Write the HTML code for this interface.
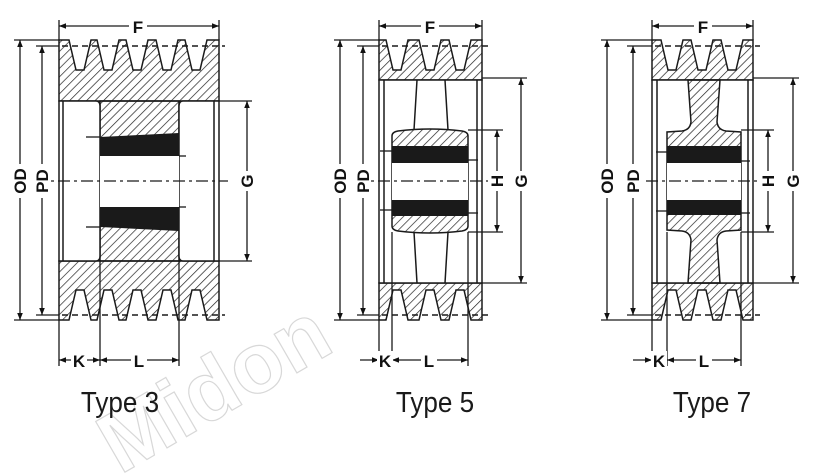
<!DOCTYPE html>
<html><head><meta charset="utf-8"><style>
html,body{margin:0;padding:0;background:#fff;width:823px;height:475px;overflow:hidden}
svg{display:block}
.o{fill:none;stroke:#1a1a1a;stroke-width:1.5}
.h{fill:url(#hat);stroke:#1a1a1a;stroke-width:1.5}
.w{fill:#fff;stroke:#1a1a1a;stroke-width:1.5}
.d{stroke:#1a1a1a;stroke-width:1.3;fill:none}
.dash{stroke:#1a1a1a;stroke-width:1.4;stroke-dasharray:6 4;fill:none}
.cl{stroke:#1a1a1a;stroke-width:1.2;stroke-dasharray:12 4 3 4;fill:none}
.lab{font-family:"Liberation Sans",sans-serif;font-weight:bold;font-size:17px;fill:#111}
.ty{font-family:"Liberation Sans",sans-serif;font-size:29px;fill:#1a1a1a}
</style></head><body>
<svg width="823" height="475" viewBox="0 0 823 475" xmlns="http://www.w3.org/2000/svg">
<defs>
<pattern id="hat" width="6" height="6" patternUnits="userSpaceOnUse" patternTransform="rotate(45)">
<line x1="0" y1="0" x2="0" y2="6" stroke="#222" stroke-width="1.4"/>
</pattern>
<marker id="a" viewBox="0 0 10 10" refX="10" refY="5" markerWidth="10" markerHeight="7" orient="auto-start-reverse" markerUnits="userSpaceOnUse">
<path d="M0,1 L10,5 L0,9 Z" fill="#111"/>
</marker>
</defs>

<!-- watermark -->
<g fill="none" stroke="#d8d8d8" stroke-width="1.2" font-family="Liberation Sans,sans-serif" font-weight="bold">
<text x="120" y="475" font-size="85" transform="rotate(-30 120 475)">Midon</text>
</g>

<!-- ================= TYPE 3 ================= -->
<g>
<path class="h" d="M59,101 L59,40 L69,40 L76,70 L84,70 L91,40 L97,40 L104,70 L112,70 L119,40 L126,40 L133,70 L141,70 L148,40 L156,40 L163,70 L171,70 L178,40 L185,40 L192,70 L200,70 L207,40 L219,40 L219,101 Z"/>
<path class="h" d="M59,261 L59,320 L69,320 L76,290 L84,290 L91,320 L97,320 L104,290 L112,290 L119,320 L126,320 L133,290 L141,290 L148,320 L156,320 L163,290 L171,290 L178,320 L185,320 L192,290 L200,290 L207,320 L219,320 L219,261 Z"/>
<rect class="h" x="100" y="101" width="79" height="160"/>
<path class="w" d="M59,101 L96,101 Q100,101 100,106 L100,256 Q100,261 96,261 L59,261 Z"/>
<line class="o" x1="63" y1="101" x2="63" y2="261"/>
<path class="w" d="M219,101 L183,101 Q179,101 179,106 L179,256 Q179,261 183,261 L219,261 Z"/>
<line class="o" x1="214" y1="101" x2="214" y2="261"/>
<path d="M100,137 L179,133 L179,156 L100,156 Z" fill="#1a1a1a"/>
<rect x="100" y="156" width="79" height="51" fill="#fff"/>
<path d="M100,207 L179,207 L179,231 L100,227 Z" fill="#1a1a1a"/>
<line class="d" x1="86" y1="137" x2="100" y2="137"/><line class="d" x1="179" y1="156" x2="186" y2="156"/>
<line class="d" x1="86" y1="227" x2="100" y2="227"/><line class="d" x1="179" y1="207" x2="186" y2="207"/>
<line class="dash" x1="62" y1="46" x2="225" y2="46"/>
<line class="dash" x1="62" y1="315" x2="225" y2="315"/>
<line class="cl" x1="12" y1="181" x2="228" y2="181"/>
<line class="d" x1="14" y1="40" x2="59" y2="40"/><line class="d" x1="14" y1="320" x2="59" y2="320"/>
<line class="d" x1="20" y1="40" x2="20" y2="320" marker-start="url(#a)" marker-end="url(#a)"/>
<line class="d" x1="36" y1="46" x2="59" y2="46"/><line class="d" x1="36" y1="315" x2="59" y2="315"/>
<line class="d" x1="42" y1="46" x2="42" y2="315" marker-start="url(#a)" marker-end="url(#a)"/>
<rect x="12" y="164" width="38" height="34" fill="#fff"/>
<text class="lab" transform="translate(26,181) rotate(-90)" text-anchor="middle">OD</text>
<text class="lab" transform="translate(48,181) rotate(-90)" text-anchor="middle">PD</text>
<line class="d" x1="59" y1="20" x2="59" y2="40"/><line class="d" x1="219" y1="20" x2="219" y2="40"/>
<line class="d" x1="59" y1="26" x2="219" y2="26" marker-start="url(#a)" marker-end="url(#a)"/>
<rect x="129" y="16" width="18" height="18" fill="#fff"/>
<text class="lab" x="138" y="33" text-anchor="middle">F</text>
<line class="d" x1="219" y1="101" x2="252" y2="101"/><line class="d" x1="219" y1="261" x2="252" y2="261"/>
<line class="d" x1="247" y1="101" x2="247" y2="261" marker-start="url(#a)" marker-end="url(#a)"/>
<rect x="239" y="171" width="17" height="20" fill="#fff"/>
<text class="lab" transform="translate(253,181) rotate(-90)" text-anchor="middle">G</text>
<line class="d" x1="59" y1="320" x2="59" y2="366"/><line class="d" x1="100" y1="261" x2="100" y2="366"/><line class="d" x1="179" y1="261" x2="179" y2="366"/>
<line class="d" x1="59" y1="360" x2="100" y2="360" marker-start="url(#a)" marker-end="url(#a)"/>
<line class="d" x1="100" y1="360" x2="179" y2="360" marker-start="url(#a)" marker-end="url(#a)"/>
<rect x="71" y="351" width="16" height="18" fill="#fff"/><rect x="131" y="351" width="16" height="18" fill="#fff"/>
<text class="lab" x="79" y="367" text-anchor="middle">K</text>
<text class="lab" x="139" y="367" text-anchor="middle">L</text>
<text class="ty" x="120" y="412" text-anchor="middle" transform="translate(12,0) scale(0.9,1)">Type 3</text>
</g>

<!-- ================= TYPE 5 ================= -->
<g>
<path class="h" d="M379,80 L379,40 L386,40 L393,70 L401,70 L408,40 L419,40 L426,70 L434,70 L441,40 L449,40 L456,70 L464,70 L471,40 L482,40 L482,80 Z"/>
<path class="h" d="M379,283 L379,320 L386,320 L393,290 L401,290 L408,320 L419,320 L426,290 L434,290 L441,320 L449,320 L456,290 L464,290 L471,320 L482,320 L482,283 Z"/>
<rect class="w" x="379" y="80" width="103" height="203"/>
<line class="o" x1="384" y1="80" x2="384" y2="283"/><line class="o" x1="477" y1="80" x2="477" y2="283"/>
<path class="o" d="M417,80 L414,130 M445,80 L448,130 M414,232 L417,283 M448,232 L445,283"/>
<path class="h" d="M392,136 Q392,132 398,131 Q430,127 462,131 Q468,132 468,136 L468,226 Q468,230 462,231 Q430,235 398,231 Q392,230 392,226 Z"/>
<rect x="392" y="146" width="76" height="17" fill="#1a1a1a"/>
<rect x="392" y="163" width="76" height="37" fill="#fff"/>
<rect x="392" y="200" width="76" height="16" fill="#1a1a1a"/>
<line class="d" x1="380" y1="151" x2="392" y2="151"/><line class="d" x1="468" y1="160" x2="478" y2="160"/>
<line class="d" x1="380" y1="210" x2="392" y2="210"/><line class="d" x1="468" y1="213" x2="478" y2="213"/>
<line class="dash" x1="382" y1="46" x2="488" y2="46"/>
<line class="dash" x1="382" y1="315" x2="488" y2="315"/>
<line class="cl" x1="332" y1="181" x2="510" y2="181"/>
<line class="d" x1="334" y1="40" x2="379" y2="40"/><line class="d" x1="334" y1="320" x2="379" y2="320"/>
<line class="d" x1="340" y1="40" x2="340" y2="320" marker-start="url(#a)" marker-end="url(#a)"/>
<line class="d" x1="357" y1="46" x2="379" y2="46"/><line class="d" x1="357" y1="315" x2="379" y2="315"/>
<line class="d" x1="363" y1="46" x2="363" y2="315" marker-start="url(#a)" marker-end="url(#a)"/>
<rect x="332" y="164" width="39" height="34" fill="#fff"/>
<text class="lab" transform="translate(346,181) rotate(-90)" text-anchor="middle">OD</text>
<text class="lab" transform="translate(369,181) rotate(-90)" text-anchor="middle">PD</text>
<line class="d" x1="379" y1="20" x2="379" y2="40"/><line class="d" x1="482" y1="20" x2="482" y2="40"/>
<line class="d" x1="379" y1="26" x2="482" y2="26" marker-start="url(#a)" marker-end="url(#a)"/>
<rect x="421" y="16" width="18" height="18" fill="#fff"/>
<text class="lab" x="430" y="33" text-anchor="middle">F</text>
<line class="d" x1="468" y1="130" x2="503" y2="130"/><line class="d" x1="468" y1="232" x2="503" y2="232"/>
<line class="d" x1="497" y1="130" x2="497" y2="232" marker-start="url(#a)" marker-end="url(#a)"/>
<line class="d" x1="482" y1="78" x2="527" y2="78"/><line class="d" x1="482" y1="283" x2="527" y2="283"/>
<line class="d" x1="521" y1="78" x2="521" y2="283" marker-start="url(#a)" marker-end="url(#a)"/>
<rect x="488" y="171" width="42" height="20" fill="#fff"/>
<text class="lab" transform="translate(503,181) rotate(-90)" text-anchor="middle">H</text>
<text class="lab" transform="translate(527,181) rotate(-90)" text-anchor="middle">G</text>
<line class="d" x1="379" y1="320" x2="379" y2="366"/><line class="d" x1="392" y1="232" x2="392" y2="366"/><line class="d" x1="468" y1="232" x2="468" y2="366"/>
<line class="d" x1="360" y1="360" x2="379" y2="360" marker-end="url(#a)"/>
<line class="d" x1="392" y1="360" x2="468" y2="360" marker-start="url(#a)" marker-end="url(#a)"/>
<rect x="377" y="351" width="16" height="18" fill="#fff"/><rect x="421" y="351" width="16" height="18" fill="#fff"/>
<text class="lab" x="385" y="367" text-anchor="middle">K</text>
<text class="lab" x="429" y="367" text-anchor="middle">L</text>
<text class="ty" x="435" y="412" text-anchor="middle" transform="translate(43.5,0) scale(0.9,1)">Type 5</text>
</g>

<!-- ================= TYPE 7 ================= -->
<g>
<path class="h" d="M652,80 L652,40 L661,40 L668,70 L676,70 L683,40 L691,40 L698,70 L706,70 L713,40 L721,40 L728,70 L736,70 L743,40 L753,40 L753,80 Z"/>
<path class="h" d="M652,283 L652,320 L661,320 L668,290 L676,290 L683,320 L691,320 L698,290 L706,290 L713,320 L721,320 L728,290 L736,290 L743,320 L753,320 L753,283 Z"/>
<rect class="w" x="652" y="80" width="101" height="203"/>
<line class="o" x1="657" y1="80" x2="657" y2="283"/><line class="o" x1="748" y1="80" x2="748" y2="283"/>
<path class="h" d="M688,80 L720,80 L717,122 Q718,130 726,131 L741,132 L741,230 L726,231 Q718,232 717,240 L720,283 L688,283 L691,240 Q690,232 682,231 L667,230 L667,132 L682,131 Q690,130 691,122 Z"/>
<rect x="667" y="146" width="74" height="17" fill="#1a1a1a"/>
<rect x="667" y="163" width="74" height="37" fill="#fff"/>
<rect x="667" y="200" width="74" height="15" fill="#1a1a1a"/>
<line class="d" x1="656" y1="152" x2="667" y2="152"/><line class="d" x1="741" y1="161" x2="750" y2="161"/>
<line class="d" x1="656" y1="211" x2="667" y2="211"/><line class="d" x1="741" y1="213" x2="750" y2="213"/>
<line class="dash" x1="655" y1="46" x2="760" y2="46"/>
<line class="dash" x1="655" y1="315" x2="760" y2="315"/>
<line class="cl" x1="600" y1="181" x2="780" y2="181"/>
<line class="d" x1="601" y1="40" x2="652" y2="40"/><line class="d" x1="601" y1="320" x2="652" y2="320"/>
<line class="d" x1="607" y1="40" x2="607" y2="320" marker-start="url(#a)" marker-end="url(#a)"/>
<line class="d" x1="627" y1="46" x2="652" y2="46"/><line class="d" x1="627" y1="315" x2="652" y2="315"/>
<line class="d" x1="633" y1="46" x2="633" y2="315" marker-start="url(#a)" marker-end="url(#a)"/>
<rect x="599" y="164" width="43" height="34" fill="#fff"/>
<text class="lab" transform="translate(613,181) rotate(-90)" text-anchor="middle">OD</text>
<text class="lab" transform="translate(639,181) rotate(-90)" text-anchor="middle">PD</text>
<line class="d" x1="652" y1="20" x2="652" y2="40"/><line class="d" x1="753" y1="20" x2="753" y2="40"/>
<line class="d" x1="652" y1="26" x2="753" y2="26" marker-start="url(#a)" marker-end="url(#a)"/>
<rect x="694" y="16" width="18" height="18" fill="#fff"/>
<text class="lab" x="703" y="33" text-anchor="middle">F</text>
<line class="d" x1="741" y1="130" x2="774" y2="130"/><line class="d" x1="741" y1="232" x2="774" y2="232"/>
<line class="d" x1="768" y1="130" x2="768" y2="232" marker-start="url(#a)" marker-end="url(#a)"/>
<line class="d" x1="753" y1="78" x2="799" y2="78"/><line class="d" x1="753" y1="283" x2="799" y2="283"/>
<line class="d" x1="793" y1="78" x2="793" y2="283" marker-start="url(#a)" marker-end="url(#a)"/>
<rect x="759" y="171" width="43" height="20" fill="#fff"/>
<text class="lab" transform="translate(774,181) rotate(-90)" text-anchor="middle">H</text>
<text class="lab" transform="translate(799,181) rotate(-90)" text-anchor="middle">G</text>
<line class="d" x1="652" y1="320" x2="652" y2="366"/><line class="d" x1="667" y1="232" x2="667" y2="366"/><line class="d" x1="741" y1="232" x2="741" y2="366"/>
<line class="d" x1="633" y1="360" x2="652" y2="360" marker-end="url(#a)"/>
<line class="d" x1="667" y1="360" x2="741" y2="360" marker-start="url(#a)" marker-end="url(#a)"/>
<rect x="651" y="351" width="16" height="18" fill="#fff"/><rect x="696" y="351" width="16" height="18" fill="#fff"/>
<text class="lab" x="659" y="367" text-anchor="middle">K</text>
<text class="lab" x="704" y="367" text-anchor="middle">L</text>
<text class="ty" x="712" y="412" text-anchor="middle" transform="translate(71.2,0) scale(0.9,1)">Type 7</text>
</g>
</svg>
</body></html>
